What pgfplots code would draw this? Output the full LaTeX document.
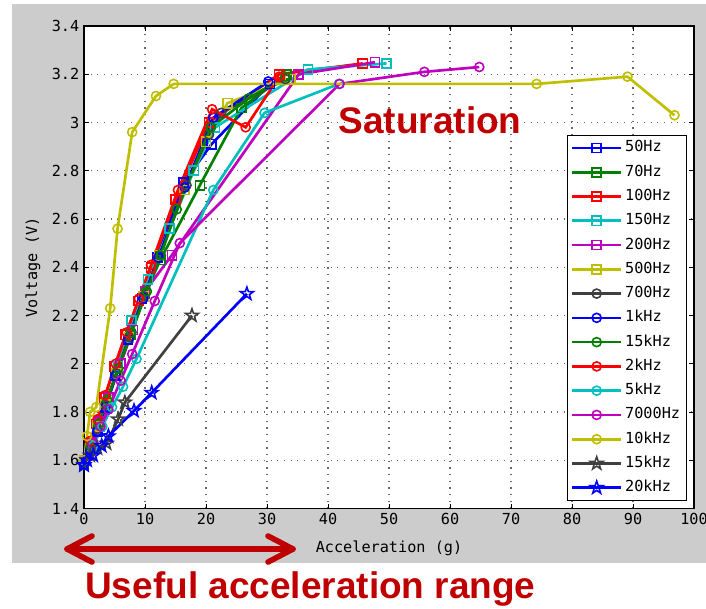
\documentclass[border=0pt]{standalone}
\usepackage{pgfplots}
\pgfplotsset{compat=1.18}
\usepackage{fontspec}
\setmainfont{Liberation Sans}
\newfontfamily\monofont{DejaVu Sans Mono}

\definecolor{mblue}{HTML}{0000FF}
\definecolor{mgreen}{HTML}{008000}
\definecolor{mred}{HTML}{FF0000}
\definecolor{mcyan}{HTML}{00BFBF}
\definecolor{mmag}{HTML}{BF00BF}
\definecolor{myel}{HTML}{BFBF00}
\definecolor{mgray}{HTML}{404040}
\definecolor{figgray}{HTML}{CCCCCC}
\definecolor{annred}{HTML}{C00000}

% five-point star outline (matlab 'p')
\pgfdeclareplotmark{pstar}{%
  \pgfpathmoveto{\pgfpointpolar{90}{\pgfplotmarksize}}%
  \pgfpathlineto{\pgfpointpolar{126}{0.4\pgfplotmarksize}}%
  \pgfpathlineto{\pgfpointpolar{162}{\pgfplotmarksize}}%
  \pgfpathlineto{\pgfpointpolar{198}{0.4\pgfplotmarksize}}%
  \pgfpathlineto{\pgfpointpolar{234}{\pgfplotmarksize}}%
  \pgfpathlineto{\pgfpointpolar{270}{0.4\pgfplotmarksize}}%
  \pgfpathlineto{\pgfpointpolar{306}{\pgfplotmarksize}}%
  \pgfpathlineto{\pgfpointpolar{342}{0.4\pgfplotmarksize}}%
  \pgfpathlineto{\pgfpointpolar{18}{\pgfplotmarksize}}%
  \pgfpathlineto{\pgfpointpolar{54}{0.4\pgfplotmarksize}}%
  \pgfpathclose\pgfusepathqstroke}

\pgfplotsset{
  ser/.style 2 args={color=#1, mark=#2, line width=2pt, mark size=3.4pt,
    mark options={solid, line width=1.2pt, fill=none}},
}

\begin{document}
\begin{tikzpicture}
\clip (0,0) rectangle (529.5pt,-456pt);
\fill[figgray] (9pt,-3pt) rectangle (540pt,-422.25pt);
\begin{axis}[at={(63pt,-381.375pt)}, anchor=south west, scale only axis,
  width=457.5pt, height=361.875pt,
  xmin=0, xmax=100, ymin=1.4, ymax=3.4,
  xtick distance=10, ytick distance=0.2,
  axis background/.style={fill=white},
  axis line style={line width=0.9pt, black},
  tick align=inside, tick pos=both, major tick length=3.75pt,
  tick style={line width=0.75pt, black},
  grid=major,
  major grid style={line width=0.8pt, black!60, dash pattern=on 0.8pt off 4.2pt},
  /pgf/number format/assume math mode=true,
  tick label style={font=\monofont\fontsize{11.4}{13}\selectfont},
  label style={font=\monofont\fontsize{11.4}{13}\selectfont},
  xlabel={Acceleration (g)}, ylabel={Voltage (V)},
  xlabel style={at={(axis description cs:0.5,-0.082)}, anchor=center},
  ylabel style={at={(axis description cs:-0.0836,0.5)}, anchor=center},
  legend style={at={(0.9885,0.774)}, anchor=north east, draw=black,
    fill=white, font=\monofont\fontsize{11.4}{13}\selectfont,
    row sep=3.2pt, inner xsep=3pt, inner ysep=2pt,
    nodes={text height=8.5pt, text depth=2.5pt, inner sep=2pt}},
  legend cell align=left,
  legend image code/.code={\draw[mark repeat=2,mark phase=2]
    plot coordinates {(0pt,0pt) (18.4pt,0pt) (36.75pt,0pt)};},
]
% 50Hz
\addplot[ser={mblue}{square}] coordinates {(0,1.58) (1,1.64) (2.2,1.72) (3.5,1.82) (5.2,1.95) (7.2,2.1) (9.5,2.27) (12,2.44) (16.3,2.75) (20.9,2.91) (30.5,3.16)};
% 70Hz
\addplot[ser={mgreen}{square}] coordinates {(0,1.59) (1,1.65) (2.3,1.74) (3.6,1.83) (5.5,1.97) (7.6,2.12) (10,2.29) (12.5,2.43) (19,2.74) (25.8,3.06) (33.2,3.2)};
% 100Hz
\addplot[ser={mred}{square}] coordinates {(0,1.6) (1,1.67) (2,1.75) (3.4,1.86) (5,1.99) (6.8,2.12) (8.9,2.26) (11,2.4) (15,2.68) (20.5,3.0) (32,3.2) (45.7,3.245)};
% 150Hz
\addplot[ser={mcyan}{square}] coordinates {(0,1.6) (1.2,1.66) (2.5,1.74) (4,1.85) (5.6,1.99) (7.8,2.18) (10.5,2.35) (14,2.56) (18,2.8) (21.5,2.98) (36.7,3.22) (49.6,3.245)};
% 200Hz
\addplot[ser={mmag}{square}] coordinates {(0,1.6) (1.2,1.67) (2.5,1.76) (4,1.86) (6,2.0) (8,2.14) (10,2.3) (14.4,2.45) (35.2,3.2) (47.7,3.25)};
% 500Hz
\addplot[ser={myel}{square}] coordinates {(0,1.6) (1,1.66) (2.2,1.74) (3.5,1.83) (5.3,1.96) (7.4,2.11) (9.8,2.28) (12.3,2.45) (16.5,2.72) (20,2.92) (23.5,3.08) (33.8,3.18)};
% 700Hz
\addplot[ser={mgray}{o}] coordinates {(0,1.59) (1,1.65) (2.2,1.73) (3.5,1.83) (5.3,1.96) (7.4,2.11) (9.8,2.28) (12.4,2.45) (16.8,2.74) (20.5,2.95) (22.5,3.04) (33,3.18)};
% 1kHz
\addplot[ser={mblue}{o}] coordinates {(0,1.58) (1,1.64) (2.2,1.72) (3.5,1.82) (5.2,1.95) (7.3,2.1) (9.7,2.27) (12.2,2.44) (16.5,2.73) (21.2,3.02) (30.2,3.17)};
% 15kHz (green)
\addplot[ser={mgreen}{o}] coordinates {(0,1.59) (1.1,1.66) (2.4,1.75) (3.8,1.85) (5.6,1.98) (7.8,2.13) (10.3,2.3) (12.6,2.45) (15.2,2.64) (20.8,2.98) (27,3.1) (33,3.19)};
% 2kHz
\addplot[ser={mred}{o}] coordinates {(0,1.6) (1,1.68) (2.2,1.77) (3.5,1.87) (5.2,2.0) (7,2.13) (9,2.27) (11,2.41) (15.4,2.72) (21,3.055) (26.5,2.98) (32,3.19)};
% 5kHz
\addplot[ser={mcyan}{o}] coordinates {(0,1.6) (1.5,1.66) (3,1.74) (4.6,1.82) (6.4,1.905) (8.6,2.02) (21.2,2.72) (29.6,3.04) (41.8,3.16)};
% 7000Hz
\addplot[ser={mmag}{o}] coordinates {(0,1.6) (1.4,1.67) (2.7,1.74) (4,1.81) (6,1.93) (7.9,2.04) (11.6,2.26) (15.7,2.5) (41.9,3.16) (55.8,3.21) (64.8,3.23)};
% 10kHz
\addplot[ser={myel}{o}] coordinates {(0,1.6) (0.5,1.7) (1,1.8) (2,1.82) (4.3,2.23) (5.5,2.56) (7.9,2.96) (11.8,3.11) (14.7,3.16) (74.2,3.16) (89.1,3.19) (96.8,3.03)};
% 15kHz (stars)
\addplot[ser={mgray}{pstar}, mark size=5pt] coordinates {(0,1.58) (1,1.62) (2.2,1.65) (3.7,1.67) (5.6,1.77) (6.7,1.84) (17.7,2.2)};
% 20kHz
\addplot[ser={mblue}{pstar}, mark size=5pt] coordinates {(0,1.58) (0.5,1.6) (1.5,1.62) (2.9,1.66) (4,1.7) (8.2,1.805) (11.1,1.88) (26.7,2.29)};
\legend{50Hz,70Hz,100Hz,150Hz,200Hz,500Hz,700Hz,1kHz,15kHz,2kHz,5kHz,7000Hz,10kHz,15kHz,20kHz}
\end{axis}
% annotations, pixel-like units from the top left corner
\begin{scope}[x=0.75pt, y=-0.75pt]
\node[anchor=base west, inner sep=0, text=annred, font=\bfseries\fontsize{27.75}{30}\selectfont] at (338.3,133.3) {Saturation};
\node[anchor=base west, inner sep=0, text=annred, font=\bfseries\fontsize{27.75}{30}\selectfont] at (85,598.3) {Useful acceleration range};
\draw[annred, line width=4.2pt, line cap=round, line join=round] (67,549) -- (293,549);
\draw[annred, line width=4.2pt, line cap=round, line join=round] (92,536) -- (67,549) -- (92,562);
\draw[annred, line width=4.2pt, line cap=round, line join=round] (268,536) -- (293,549) -- (268,562);
\end{scope}
\end{tikzpicture}
\end{document}
